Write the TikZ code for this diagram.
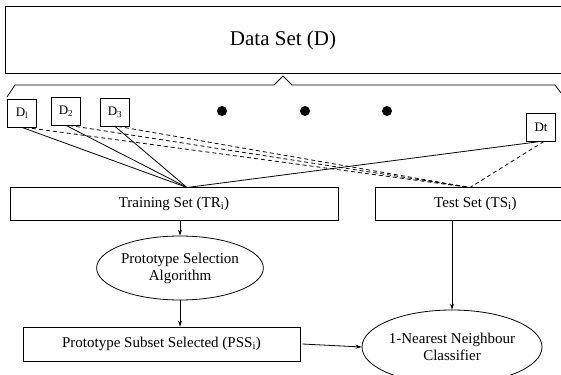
\documentclass[tikz,border=0pt]{standalone}
\usepackage{fontspec}
\setmainfont{Liberation Serif}
\usetikzlibrary{shapes.geometric,arrows.meta}
\begin{document}
\begin{tikzpicture}[x=1pt,y=-1pt,
  line width=0.8pt,
  every node/.style={font=\fontsize{15}{17}\selectfont},
  setbox/.style={draw,rectangle,inner sep=0pt},
  part/.style={draw,rectangle,minimum width=29pt,minimum height=28pt,inner sep=0pt,font=\fontsize{13}{15}\selectfont},
  proc/.style={draw,ellipse,inner sep=0pt,align=center},
  dot/.style={circle,fill=black,inner sep=0pt,minimum size=10pt},
  flow/.style={-{Stealth[length=6pt,width=4pt]}},
  split/.style={dash pattern=on 4pt off 3pt}]
\useasboundingbox (0,0) rectangle (561,374);

% whole data set
\draw (5,6) -- (5,73) -- (570,73);
\draw (5,6) -- (570,6);
\node[font=\fontsize{21}{24}\selectfont] (data) at (283,40) {Data Set (D)};

% brace below the data set
\draw (7,97) -- (15,85) -- (274,85) -- (283,76) -- (292,85) -- (555,85) -- (561,93);

% partitions
\node[part] (d1) at (22,113) {D\textsubscript{l}};
\node[part] (d2) at (66,111) {D\textsubscript{2}};
\node[part] (d3) at (115,112) {D\textsubscript{3}};
\node[part] (dt) at (541,127) {Dt};
\node[dot] (e1) at (222,111) {};
\node[dot] (e2) at (305,111) {};
\node[dot] (e3) at (387,111) {};

% training and test sets
\node[setbox,minimum width=328pt,minimum height=33pt] (tr) at (174,204) {Training Set (TR\textsubscript{i})};
\node[setbox,minimum width=200pt,minimum height=33pt,anchor=west] (ts) at (375,204) {Test Set (TS\textsubscript{i})};
\coordinate (trin) at (187,187.5);
\coordinate (tsin) at (470,187.5);

% partition to set connectors
\draw (d1.south) -- (trin);
\draw (d2.south) -- (trin);
\draw (d3.south) -- (trin);
\draw (dt.south) -- (trin);
\draw[split] ([xshift=3pt]d1.south) -- (tsin);
\draw[split] ([xshift=3pt]d2.south) -- (tsin);
\draw[split] ([xshift=3pt]d3.south) -- (tsin);
\draw[split] ([xshift=3pt]dt.south) -- (tsin);

% selection and classification
\node[proc,minimum width=158pt,minimum height=64pt] (psa) at (180,268) {Prototype Selection\\Algorithm};
\node[setbox,minimum width=277pt,minimum height=34pt] (pss) at (161.5,344) {Prototype Subset Selected (PSS\textsubscript{i})};
\node[proc,minimum width=180pt,minimum height=74pt] (nn) at (452,347) {1-Nearest Neighbour\\Classifier};

\draw[flow] (tr.south -| psa.north) -- (psa.north);
\draw[flow] (psa.south) -- (pss.north -| psa.south);
\draw[flow] ([xshift=2pt]pss.east) -- (nn.west);
\draw[flow] (ts.south -| nn.north) -- (nn.north);
\end{tikzpicture}
\end{document}
